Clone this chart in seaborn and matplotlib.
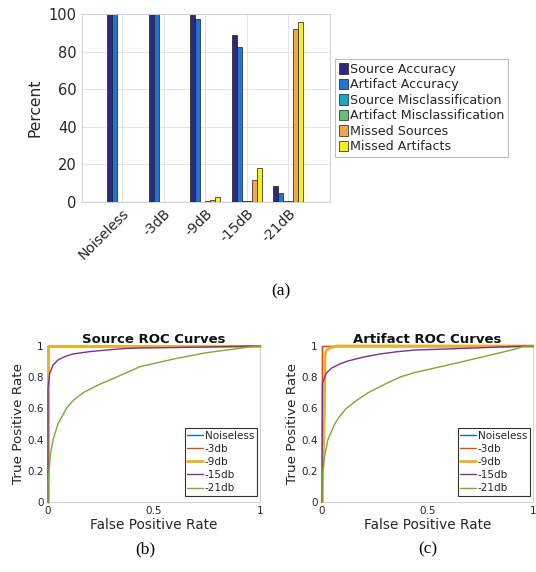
import matplotlib
matplotlib.use("Agg")
import matplotlib.pyplot as plt
import seaborn as sns
import pandas as pd

# --- bar chart data (percent) ---
conditions = ["Noiseless", "-3dB", "-9dB", "-15dB", "-21dB"]
metrics = ["Source Accuracy", "Artifact Accuracy", "Source Misclassification",
           "Artifact Misclassification", "Missed Sources", "Missed Artifacts"]
source_accuracy = [100, 100, 99.5, 88.7, 8.4]
artifact_accuracy = [100, 100, 97.3, 82.5, 4.6]
source_misclass = [0, 0, 0.0, 0.5, 0.3]
artifact_misclass = [0, 0, 0.3, 0.5, 0.5]
missed_sources = [0, 0, 0.9, 11.7, 92.0]
missed_artifacts = [0, 0, 2.8, 17.9, 95.9]
bar_colors = ["#2d2a78", "#2273d8", "#1aa6c6", "#6cbb7e", "#efa64e", "#f4f21c"]

# --- ROC curves ---
roc_labels = ["Noiseless", "-3db", "-9db", "-15db", "-21db"]
roc_colors = ["#0072BD", "#D95319", "#EDB120", "#7E2F8E", "#77AC30"]
roc_widths = [1.0, 1.0, 2.0, 1.0, 1.0]

perfect_fpr = [0, 0, 1]
perfect_tpr = [0, 1, 1]

src15_fpr = [0, 0, 0.008, 0.024, 0.047, 0.079, 0.118, 0.197, 0.275, 0.354, 0.43, 0.59, 0.8, 0.953, 1.0]
src15_tpr = [0, 0.73, 0.825, 0.878, 0.91, 0.932, 0.949, 0.964, 0.974, 0.983, 0.987, 0.99, 0.995, 1.0, 1.0]
src21_fpr = [0, 0.0, 0.005, 0.011, 0.024, 0.047, 0.087, 0.118, 0.165, 0.236, 0.322, 0.433, 0.59, 0.747, 0.904, 0.983, 1.0]
src21_tpr = [0, 0.1, 0.2, 0.3, 0.4, 0.5, 0.6, 0.65, 0.7, 0.75, 0.8, 0.867, 0.916, 0.957, 0.985, 1.0, 1.0]

art9_fpr = [0, 0.012, 0.014, 0.02, 0.035, 0.07, 1.0]
art9_tpr = [0, 0.6, 0.94, 0.97, 0.985, 1.0, 1.0]
art15_fpr = [0, 0.002, 0.02, 0.044, 0.084, 0.123, 0.2, 0.28, 0.36, 0.44, 0.68, 0.96, 1.0]
art15_tpr = [0, 0.76, 0.825, 0.857, 0.885, 0.904, 0.93, 0.95, 0.964, 0.974, 0.985, 1.0, 1.0]
art21_fpr = [0, 0.0, 0.004, 0.013, 0.028, 0.06, 0.084, 0.115, 0.163, 0.218, 0.29, 0.368, 0.44, 0.6, 0.755, 0.913, 0.96, 1.0]
art21_tpr = [0, 0.1, 0.2, 0.3, 0.4, 0.5, 0.55, 0.6, 0.65, 0.7, 0.75, 0.8, 0.83, 0.879, 0.928, 0.979, 1.0, 1.0]

source_curves = [(perfect_fpr, perfect_tpr), (perfect_fpr, perfect_tpr), (perfect_fpr, perfect_tpr),
                 (src15_fpr, src15_tpr), (src21_fpr, src21_tpr)]
artifact_curves = [(perfect_fpr, perfect_tpr), (perfect_fpr, perfect_tpr), (art9_fpr, art9_tpr),
                   (art15_fpr, art15_tpr), (art21_fpr, art21_tpr)]

sns.set_style("white")
plt.rcParams["font.family"] = ["DejaVu Sans"]
text_col = "#262626"

W, H = 536, 572
fig = plt.figure(figsize=(W / 100, H / 100), dpi=100)


def rect(x0, y0, x1, y1):
    return [x0 / W, 1 - y1 / H, (x1 - x0) / W, (y1 - y0) / H]


# ---------------- (a) grouped bars ----------------
ax = fig.add_axes(rect(82, 14, 330, 202))
series = [source_accuracy, artifact_accuracy, source_misclass,
          artifact_misclass, missed_sources, missed_artifacts]
rows = []
for m, vals in zip(metrics, series):
    for c, v in zip(conditions, vals):
        rows.append({"condition": c, "metric": m, "percent": v})
bars = pd.DataFrame(rows)
sns.barplot(data=bars, x="condition", y="percent", hue="metric", order=conditions,
            hue_order=metrics, palette=bar_colors, width=0.72, saturation=1,
            edgecolor="#1a1a1a", linewidth=0.5, ax=ax, legend=True)
ax.set_xlim(-0.965, 5.0)
ax.set_ylim(0, 100)
ax.set_yticks([0, 20, 40, 60, 80, 100])
ax.grid(True, color="#e3e3e3", linewidth=0.7)
ax.set_axisbelow(True)
for s in ax.spines.values():
    s.set_color("#d0d0d0")
    s.set_linewidth(0.7)
ax.axhline(0, color="#555555", linewidth=0.8, zorder=3)
ax.set_xlabel("")
ax.set_ylabel("Percent", fontsize=11.2, color=text_col, labelpad=4)
ax.tick_params(axis="y", labelsize=10.5, labelcolor=text_col, length=0, pad=4)
ax.tick_params(axis="x", labelsize=10, labelcolor=text_col, length=0, pad=3)
plt.setp(ax.get_xticklabels(), rotation=45, ha="right", rotation_mode="anchor")
handles, labels = ax.get_legend_handles_labels()
ax.legend_.remove()
leg = fig.legend(handles, labels, loc="upper left", bbox_to_anchor=(335 / W, 1 - 59 / H),
                 borderaxespad=0, fontsize=9.1, frameon=True, fancybox=False,
                 edgecolor="#bdbdbd", framealpha=1, handlelength=0.75, handleheight=0.9,
                 handletextpad=0.15, labelspacing=0.2, borderpad=0.3)
leg.get_frame().set_linewidth(0.8)
for t in leg.get_texts():
    t.set_color(text_col)
fig.text(281 / W, 1 - 291 / H, "(a)", ha="center", va="center",
         fontsize=12.5, family="Liberation Serif", color="black")


# ---------------- (b), (c) ROC curves ----------------
def roc_panel(box, title, curves):
    a = fig.add_axes(rect(*box))
    for (fpr, tpr), lab, col, lw in zip(curves, roc_labels, roc_colors, roc_widths):
        df = pd.DataFrame({"fpr": fpr, "tpr": tpr})
        sns.lineplot(data=df, x="fpr", y="tpr", sort=False, estimator=None,
                     color=col, linewidth=lw, label=lab, ax=a, clip_on=False, zorder=3)
    a.set_xlim(0, 1)
    a.set_ylim(0, 1)
    a.set_xticks([0, 0.5, 1])
    a.set_xticklabels(["0", "0.5", "1"])
    a.set_yticks([0, 0.2, 0.4, 0.6, 0.8, 1])
    a.set_yticklabels(["0", "0.2", "0.4", "0.6", "0.8", "1"])
    for s in a.spines.values():
        s.set_color("#d0d0d0")
        s.set_linewidth(0.7)
        s.set_zorder(1)
    a.tick_params(labelsize=7.5, labelcolor=text_col, length=0, pad=3)
    a.set_title(title, fontsize=9.5, fontweight="bold", color="#111111", pad=2)
    a.set_xlabel("False Positive Rate", fontsize=9.8, color=text_col, labelpad=1)
    a.set_ylabel("True Positive Rate", fontsize=9.7, color=text_col, labelpad=2)
    lg = a.legend(loc="lower right", bbox_to_anchor=(0.985, 0.04), borderaxespad=0,
                  fontsize=7.5, frameon=True, fancybox=False, edgecolor="#333333",
                  framealpha=1, handlelength=1.5, handletextpad=0.2,
                  labelspacing=0.3, borderpad=0.25)
    lg.get_frame().set_linewidth(0.8)
    lg.set_zorder(5)
    for t in lg.get_texts():
        t.set_color(text_col)
    return a


roc_panel((48, 346, 260, 502), "Source ROC Curves", source_curves)
roc_panel((322, 346, 533, 502), "Artifact ROC Curves", artifact_curves)
fig.text(145 / W, 1 - 549 / H, "(b)", ha="center", va="center",
         fontsize=12.5, family="Liberation Serif", color="black")
fig.text(428 / W, 1 - 549 / H, "(c)", ha="center", va="center",
         fontsize=12.5, family="Liberation Serif", color="black")

fig.savefig("out.png", dpi=100, facecolor="white")
